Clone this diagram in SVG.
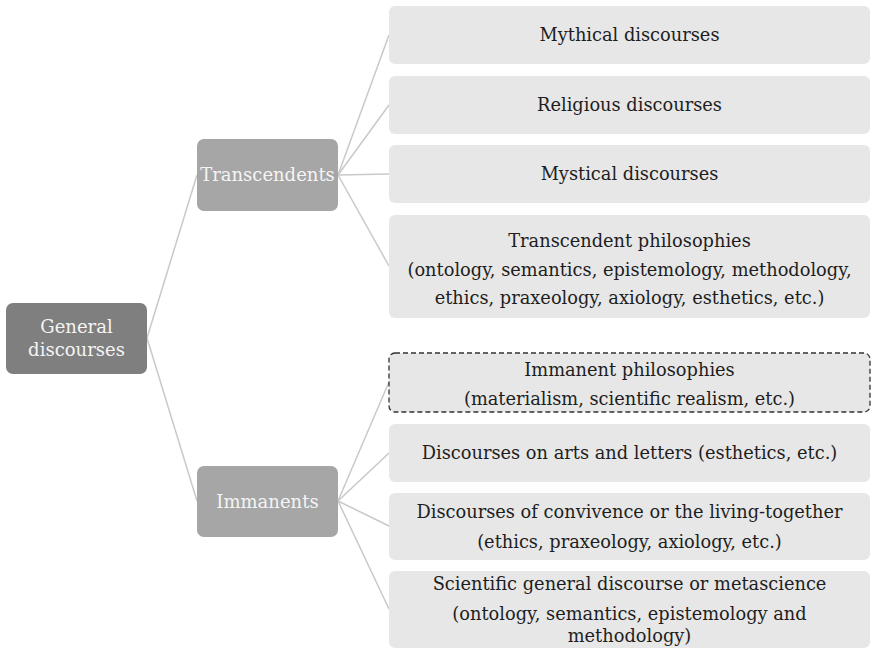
<svg xmlns="http://www.w3.org/2000/svg" width="871" height="650" viewBox="0 0 871 650">
<style>
.lvl0{fill:#7f7f7f}
.lvl1{fill:#a6a6a6}
.leaf{fill:#e7e7e7}
.dash{stroke:#333;stroke-width:1.3;stroke-dasharray:5 3}
.wt{font-family:'DejaVu Serif',serif;font-size:18px;fill:#f4f4f4;text-anchor:middle}
.bt{font-family:'DejaVu Serif',serif;font-size:17.8px;fill:#1e1e1e;text-anchor:middle}
.conn line{stroke:#c9c9c9;stroke-width:1.5}
</style>
<rect width="871" height="650" fill="#ffffff"/>
<g class="conn">
<line x1="147" y1="338" x2="197" y2="175"/>
<line x1="147" y1="338" x2="197" y2="501"/>
<line x1="338" y1="175" x2="389" y2="35"/>
<line x1="338" y1="175" x2="389" y2="105"/>
<line x1="338" y1="175" x2="389" y2="174"/>
<line x1="338" y1="175" x2="389" y2="266"/>
<line x1="338" y1="501" x2="389" y2="382"/>
<line x1="338" y1="501" x2="389" y2="453"/>
<line x1="338" y1="501" x2="389" y2="526"/>
<line x1="338" y1="501" x2="389" y2="609"/>
</g>
<g id="general">
<rect class="lvl0" x="6" y="303" width="141" height="71" rx="7"/>
<text class="wt" x="76.5" y="333">General</text>
<text class="wt" x="76.5" y="356">discourses</text>
</g>
<g id="transcendents">
<rect class="lvl1" x="197" y="139" width="141" height="72" rx="7"/>
<text class="wt" x="267.5" y="181">Transcendents</text>
</g>
<g id="immanents">
<rect class="lvl1" x="197" y="466" width="141" height="71" rx="7"/>
<text class="wt" x="267.5" y="508">Immanents</text>
</g>
<g id="mythical">
<rect class="leaf" x="389" y="6" width="481" height="58" rx="6"/>
<text class="bt" x="629.5" y="41">Mythical discourses</text>
</g>
<g id="religious">
<rect class="leaf" x="389" y="76" width="481" height="58" rx="6"/>
<text class="bt" x="629.5" y="111">Religious discourses</text>
</g>
<g id="mystical">
<rect class="leaf" x="389" y="145" width="481" height="58" rx="6"/>
<text class="bt" x="629.5" y="180">Mystical discourses</text>
</g>
<g id="transcendent-philosophies">
<rect class="leaf" x="389" y="215" width="481" height="103" rx="6"/>
<text class="bt" x="629.5" y="247">Transcendent philosophies</text>
<text class="bt" x="629.5" y="276">(ontology, semantics, epistemology, methodology,</text>
<text class="bt" x="629.5" y="304">ethics, praxeology, axiology, esthetics, etc.)</text>
</g>
<g id="immanent-philosophies">
<rect class="leaf dash" x="389" y="353" width="481" height="59" rx="6"/>
<text class="bt" x="629.5" y="376">Immanent philosophies</text>
<text class="bt" x="629.5" y="405">(materialism, scientific realism, etc.)</text>
</g>
<g id="arts">
<rect class="leaf" x="389" y="424" width="481" height="58" rx="6"/>
<text class="bt" x="629.5" y="459">Discourses on arts and letters (esthetics, etc.)</text>
</g>
<g id="convivence">
<rect class="leaf" x="389" y="493" width="481" height="67" rx="6"/>
<text class="bt" x="629.5" y="518">Discourses of convivence or the living-together</text>
<text class="bt" x="629.5" y="548">(ethics, praxeology, axiology, etc.)</text>
</g>
<g id="scientific">
<rect class="leaf" x="389" y="571" width="481" height="77" rx="6"/>
<text class="bt" x="629.5" y="590">Scientific general discourse or metascience</text>
<text class="bt" x="629.5" y="620">(ontology, semantics, epistemology and</text>
<text class="bt" x="629.5" y="642">methodology)</text>
</g>
</svg>
